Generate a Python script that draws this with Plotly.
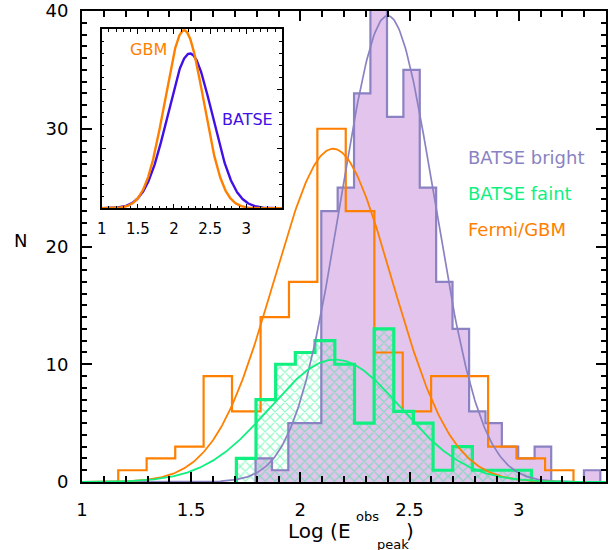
import numpy as np
import plotly.graph_objects as go

# ---------------- data ----------------
# Fermi/GBM histogram (bin edges and counts)
gbm_edges = [1.166, 1.296, 1.427, 1.557, 1.687, 1.818, 1.948, 2.078, 2.208,
             2.339, 2.469, 2.599, 2.730, 2.860, 2.990, 3.121, 3.251]
gbm_counts = [1, 2, 3, 9, 6, 14, 17, 30, 23, 11, 6, 9, 9, 3, 2, 1]

# BATSE bright histogram
bright_edges = [1.795, 1.870, 1.945, 2.021, 2.096, 2.171, 2.246, 2.321, 2.397,
                2.472, 2.547, 2.622, 2.697, 2.773, 2.848, 2.923, 2.998, 3.073,
                3.149, 3.224, 3.299, 3.374]
bright_counts = [2, 1, 5, 5, 23, 25, 33, 43, 31, 35, 25, 17, 13, 6, 5, 3, 2, 3, 0, 0, 1]

# BATSE faint histogram
faint_edges = [1.707, 1.797, 1.887, 1.977, 2.067, 2.158, 2.248, 2.338, 2.428,
               2.518, 2.608, 2.698, 2.788, 2.878, 2.968, 3.059]
faint_counts = [2, 7, 10, 11, 12, 10, 5, 13, 6, 5, 1, 3, 1, 1, 1]

# Gaussian fits (amplitude, mean, sigma)
bright_fit = (39.6, 2.40, 0.214)
faint_fit = (10.4, 2.16, 0.300)
gbm_fit = (28.3, 2.15, 0.270)

# Inset: normalised distributions (mean, sigma)
inset_gbm = (2.14, 0.267)
inset_batse = (2.22, 0.307)

main_xticks = [1, 1.5, 2, 2.5, 3]
main_yticks = [0, 10, 20, 30, 40]
inset_xticks = [1, 1.5, 2, 2.5, 3]

ORANGE = "#ff8000"
GREEN = "#10f080"
PURPLE = "#8a82c2"
PURPLE_FILL = "#e3c4ec"
BLUE = "#4010e6"
FONT = "DejaVu Sans"

# plot-area geometry in pixels
L, R, T, B = 82, 606, 11, 482


def step_xy(edges, counts):
    n = len(counts)
    xs = [edges[0]] + list(edges[:n]) + [edges[n], edges[n]]
    ys = [0] + list(counts) + [counts[-1], 0]
    return xs, ys


def gauss(x, amp, mu, sig):
    return amp * np.exp(-0.5 * ((x - mu) / sig) ** 2)


fig = go.Figure()

# purple filled histogram
bx, by = step_xy(bright_edges, bright_counts)
fig.add_trace(go.Scatter(x=bx, y=by, mode="lines", line=dict(width=0, shape="hv"),
                         fill="tozeroy", fillcolor=PURPLE_FILL, hoverinfo="skip"))
# green hatched histogram
fx, fy = step_xy(faint_edges, faint_counts)
fig.add_trace(go.Scatter(x=fx, y=fy, mode="lines", line=dict(width=0, shape="hv"),
                         fill="tozeroy", fillcolor="rgba(0,0,0,0)",
                         fillpattern=dict(shape="x", fgcolor=GREEN, bgcolor="rgba(0,0,0,0)",
                                          size=7, solidity=0.3),
                         hoverinfo="skip"))
# outlines
fig.add_trace(go.Scatter(x=bx, y=by, mode="lines", line=dict(color=PURPLE, width=2.2, shape="hv")))
gx, gy = step_xy(gbm_edges, gbm_counts)
fig.add_trace(go.Scatter(x=gx, y=gy, mode="lines", line=dict(color=ORANGE, width=2.2, shape="hv")))
fig.add_trace(go.Scatter(x=fx, y=fy, mode="lines", line=dict(color=GREEN, width=3.2, shape="hv")))

# fits
xc = np.linspace(1.0, 3.4, 400)
fig.add_trace(go.Scatter(x=xc, y=gauss(xc, *bright_fit), mode="lines", line=dict(color=PURPLE, width=1.7)))
fig.add_trace(go.Scatter(x=xc, y=gauss(xc, *gbm_fit), mode="lines", line=dict(color=ORANGE, width=1.8)))
fig.add_trace(go.Scatter(x=xc, y=gauss(xc, *faint_fit), mode="lines", line=dict(color=GREEN, width=1.8)))

# inset
xi = np.linspace(1.0, 3.5, 400)
for (mu, sig), col in [(inset_batse, BLUE), (inset_gbm, ORANGE)]:
    amp = 1.0 / (sig * np.sqrt(2 * np.pi))
    fig.add_trace(go.Scatter(x=xi, y=gauss(xi, amp, mu, sig), mode="lines",
                             line=dict(color=col, width=2.4), xaxis="x2", yaxis="y2"))

axis_common = dict(showline=True, linecolor="black", linewidth=2, mirror="ticks",
                   ticks="inside", tickcolor="black", showgrid=False, zeroline=False,
                   automargin=False,
                   tickfont=dict(family=FONT, size=18, color="black"))

W = R - L
H = B - T


def px(xp):
    return (xp - L) / W


def py(yp):
    return (B - yp) / H


fig.update_layout(
    width=616, height=550,
    margin=dict(l=L, r=616 - R, t=T, b=550 - B, autoexpand=False),
    paper_bgcolor="white", plot_bgcolor="white",
    showlegend=False,
    xaxis=dict(range=[1, 3.4], tickvals=main_xticks, ticklen=10, tickwidth=1.5,
               minor=dict(dtick=0.1, ticklen=6, tickwidth=1.5, ticks="inside", tickcolor="black"),
               ticklabelstandoff=10, **axis_common),
    yaxis=dict(range=[0, 40], tickvals=main_yticks, ticklen=10, tickwidth=1.5,
               minor=dict(dtick=1, ticklen=5, tickwidth=1.5, ticks="inside", tickcolor="black"),
               ticklabelstandoff=8, **axis_common),
    xaxis2=dict(domain=[px(101.7), px(281.7)], anchor="y2", range=[1, 3.49], tickvals=inset_xticks,
                showline=True, linecolor="black", linewidth=1.5, mirror="ticks",
                ticks="inside", ticklen=5, tickcolor="black", showgrid=False, zeroline=False,
                automargin=False,
                minor=dict(dtick=0.1, ticklen=3, ticks="inside", tickcolor="black"),
                tickfont=dict(family=FONT, size=15, color="black"), ticklabelstandoff=6),
    yaxis2=dict(domain=[py(208.3), py(29)], anchor="x2", range=[0, 1.505], dtick=0.5,
                showline=True, linecolor="black", linewidth=1.5, mirror="ticks",
                ticks="inside", ticklen=5, tickcolor="black", showgrid=False, zeroline=False,
                automargin=False,
                minor=dict(dtick=0.1, ticklen=3, ticks="inside", tickcolor="black"),
                showticklabels=False),
)

ann = [
    dict(text="N", x=20, y=240, size=18),
    dict(text="Log (E", x=353, y=531, size=20, anchor="right"),
    dict(text="obs", x=354, y=516, size=13, anchor="left"),
    dict(text="peak", x=375, y=544, size=13, anchor="left"),
    dict(text=")", x=404, y=531, size=20, anchor="left"),
    dict(text="BATSE bright", x=466, y=157, color=PURPLE, anchor="left"),
    dict(text="BATSE faint", x=466, y=193, color=GREEN, anchor="left"),
    dict(text="Fermi/GBM", x=466, y=229, color=ORANGE, anchor="left"),
    dict(text="GBM", x=148, y=50, color=ORANGE, size=16),
    dict(text="BATSE", x=247, y=120, color=BLUE, size=16),
]

for a in ann:
    fig.add_annotation(
        text=a["text"], xref="paper", yref="paper",
        x=px(a["x"]), y=py(a["y"]),
        xanchor=a.get("anchor", "center"), yanchor="middle", showarrow=False,
        font=dict(family=FONT, size=a.get("size", 18), color=a.get("color", "black")))

fig.write_html(
    "out.html",
    config={"displayModeBar": False},
    post_script="document.body.style.margin='0';document.body.style.overflow='hidden';",
)
